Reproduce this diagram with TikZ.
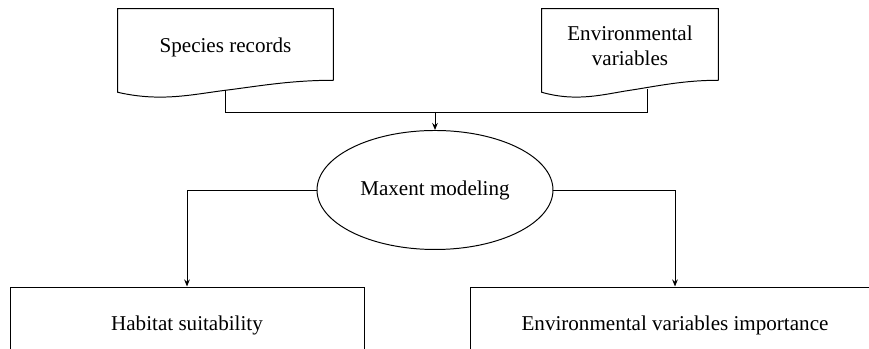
\documentclass[tikz,border=0pt]{standalone}
\usepackage{fontspec}
\setmainfont{Liberation Serif}
\usetikzlibrary{arrows.meta,shapes.geometric,calc}

% contorn de document (vora inferior ondulada)
\newcommand{\docoutline}[1]{%
    \draw[linia]
        ($(#1.south east)+(0,0.3)$) -- (#1.north east)
        -- (#1.north west) -- (#1.south west)
        .. controls ($(#1.south west)!0.2!(#1.south east)+(0,-0.25)$)
        and ($(#1.south west)!0.35!(#1.south east)+(0,-0.05)$)
        .. ($(#1.south west)!0.5!(#1.south east)+(0,0.05)$)
        .. controls ($(#1.south west)!0.65!(#1.south east)+(0,0.15)$)
        and ($(#1.south west)!0.8!(#1.south east)+(0,0.3)$)
        .. ($(#1.south east)+(0,0.3)$);
}

\begin{document}
\begin{tikzpicture}[
    >={Stealth[length=5pt,width=4pt]},
    every node/.style={font=\fontsize{15}{18}\selectfont},
    linia/.style={line width=0.7pt, black},
    document/.style={minimum height=2.075cm, align=center, inner sep=0pt,
        text depth=0.25cm},
    resultat/.style={draw, line width=0.7pt, minimum height=1.9cm, inner sep=0pt}
]

    \useasboundingbox (0,0) rectangle (21.725,8.725);
    \clip (0,0) rectangle (21.725,8.725);

    % Entrades
    \node[document, minimum width=5.375cm] (species) at (5.6375,7.4625)
        {Species records};
    \docoutline{species}
    \node[document, minimum width=4.4cm] (env) at (15.75,7.4625)
        {Environmental\\variables};
    \docoutline{env}

    % Model
    \node[
        draw,
        ellipse,
        line width=0.7pt,
        minimum width=5.9cm,
        minimum height=2.975cm
    ] (maxent) at (10.875,3.975) {Maxent modeling};

    % Sortides
    \node[resultat, minimum width=8.85cm] (habitat) at (4.675,0.6)
        {Habitat suitability};
    \node[resultat, minimum width=10.25cm] (importance) at (16.875,0.6)
        {Environmental variables importance};

    % Connexions
    \coordinate (sp-stem) at ([yshift=0.05cm]species.south);
    \coordinate (env-stem) at ($(env.south west)!0.6!(env.south east)+(0,0.08)$);
    \coordinate (join) at (maxent.north |- 0,5.925);
    \draw[linia] (sp-stem) -- (sp-stem |- join) -- (env-stem |- join) -- (env-stem);
    \draw[linia, ->] (join) -- (maxent.north);
    \draw[linia, ->] (maxent.west) -| (habitat.north);
    \draw[linia, ->] (maxent.east) -| (importance.north);

\end{tikzpicture}
\end{document}
